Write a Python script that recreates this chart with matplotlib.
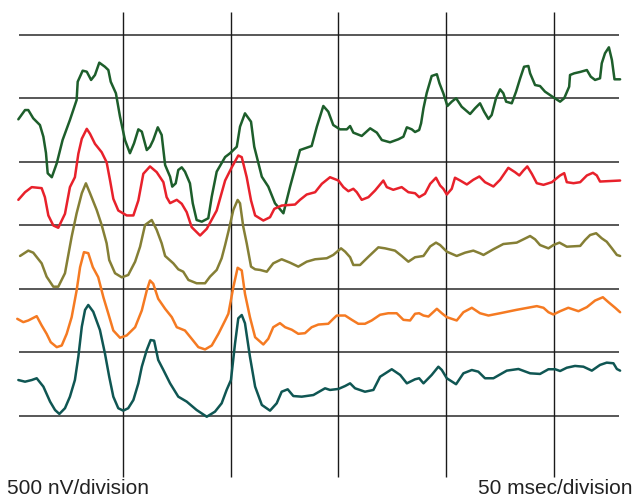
import matplotlib
matplotlib.use("Agg")
import matplotlib.pyplot as plt

# Averaged evoked-potential traces: time (ms) and amplitude (nV) relative to each
# trace's own reference line on the division grid.

green_t = [1.7, 4.8, 6.3, 8.6, 11.7, 13.3, 14.5, 15.3, 17.2, 19.5, 22.2, 25.6, 28.7, 29.2,
           31.5, 33.4, 35.4, 37.2, 39.2, 41.8, 43.4, 44.5, 46.9, 48.8, 51.1, 53.4, 55.3, 57.3,
           58.9, 61.2, 62.7, 64.2, 66.3, 68.1, 69.7, 72.0, 73.0, 74.6, 75.8, 77.4, 78.9, 81.2,
           82.5, 84.3, 86.7, 89.7, 91.3, 93.6, 97.5, 99.8, 102.9, 104.4, 106.7, 109.5, 111.0,
           114.5, 117.5, 120.6, 124.5, 127.6, 132.2, 137.6, 140.0, 143.0, 145.3, 147.6, 150.7,
           153.9, 155.4, 156.9, 160.8, 164.7, 167.8, 170.1, 173.9, 177.8, 180.1, 181.7, 184.0,
           185.5, 187.4, 188.3, 189.4, 190.9, 193.2, 195.6, 196.8, 198.6, 200.5, 202.5, 204.5,
           207.1, 211.0, 213.3, 215.6, 217.5, 219.5, 221.0, 223.0, 224.9, 226.4, 227.7, 230.3,
           232.3, 234.2, 236.0, 238.0, 238.8, 241.1, 243.4, 245.7, 249.6, 252.7, 254.6, 256.9,
           257.3, 259.2, 262.0, 265.1, 266.9, 268.9, 271.2, 272.0, 273.5, 275.3, 276.7, 277.9,
           280.5]
green_nv = [336, 409, 409, 344, 291, 199, 71, -89, -120, -10, 173, 331, 488, 632,
            719, 711, 646, 685, 782, 750, 724, 632, 541, 357, 173, 69, 147, 257,
            239, 94, 120, 173, 273, 213, -24, -116, -194, -168, -63, -42, -76, -168,
            -325, -457, -470, -443, -273, -76, 39, 69, 120, 278, 383, 317, 120,
            -116, -194, -325, -404, -194, 94, 126, 278, 441, 396, 291, 257,
            257, 283, 231, 205, 265, 231, 173, 155, 179, 199, 273, 257,
            236, 252, 305, 423, 543, 677, 691, 620, 541, 441, 475, 502,
            435, 378, 423, 462, 396, 339, 370, 502, 572, 541, 475, 462,
            554, 659, 750, 756, 698, 606, 598, 554, 509, 475, 502, 593,
            685, 698, 709, 724, 672, 646, 659, 777, 856, 903, 803, 651,
            651]

red_t = [1.7, 4.8, 7.9, 12.5, 14.0, 15.6, 17.9, 20.2, 23.3, 25.6, 27.9, 29.5, 31.1, 33.4,
         34.9, 37.2, 40.3, 42.6, 44.2, 45.7, 48.0, 51.9, 55.0, 57.3, 59.6, 62.7, 65.8, 68.9,
         70.4, 72.0, 75.1, 77.4, 79.7, 82.0, 85.9, 89.0, 93.6, 97.5, 100.6, 103.6, 105.2,
         107.5, 109.5, 111.4, 115.2, 118.3, 120.3, 123.7, 129.9, 132.2, 135.3, 139.2, 142.3,
         146.1, 150.0, 152.3, 154.6, 156.9, 158.5, 160.8, 163.9, 167.0, 170.8, 172.4, 175.4,
         179.3, 182.4, 185.5, 187.4, 190.1, 192.5, 195.2, 197.1, 198.6, 200.2, 202.5, 204.0,
         206.4, 209.5, 212.5, 215.3, 217.9, 221.8, 224.9, 228.7, 231.8, 233.8, 235.7, 237.5,
         239.6, 241.9, 245.0, 248.9, 252.7, 254.6, 255.8, 258.9, 262.0, 265.1, 267.9, 269.7,
         271.2, 280.5]
red_nv = [202, 262, 302, 294, 223, 79, 0, -18, 92, 302, 380, 565, 683, 761,
          722, 643, 577, 498, 354, 210, 118, 79, 79, 197, 407, 465, 420, 341,
          223, 176, 202, 171, 105, -13, -79, -26, 118, 354, 459, 551, 538,
          380, 197, 79, 39, 65, 131, 157, 165, 202, 244, 262, 328,
          380, 354, 302, 270, 289, 262, 202, 223, 276, 354, 302, 281,
          302, 262, 254, 223, 250, 328, 376, 315, 289, 244, 289, 376,
          354, 323, 360, 386, 341, 307, 360, 454, 420, 394, 433, 465,
          407, 333, 320, 341, 394, 412, 341, 333, 341, 394, 415, 394,
          346, 354]

olive_t = [2.5, 6.3, 8.6, 12.5, 14.8, 17.9, 20.2, 23.3, 26.4, 28.7, 31.1, 33.0, 34.9, 38.0,
           40.3, 42.6, 43.8, 46.5, 49.6, 52.6, 55.8, 58.1, 60.4, 63.5, 65.8, 68.1, 69.7, 73.5,
           75.8, 78.1, 80.5, 84.3, 88.2, 90.5, 93.6, 95.9, 97.5, 99.0, 101.3, 103.3, 104.4,
           105.9, 107.5, 109.5, 111.4, 113.7, 116.8, 119.8, 123.7, 127.6, 131.4, 135.3, 139.2,
           144.6, 147.6, 151.2, 153.1, 155.4, 156.9, 160.0, 163.9, 168.5, 171.6, 176.2, 179.3,
           182.4, 185.5, 189.4, 192.5, 195.2, 197.1, 200.2, 204.8, 208.7, 212.5, 215.6, 217.2,
           221.8, 226.4, 232.6, 235.7, 238.8, 241.1, 243.4, 247.3, 249.6, 252.4, 255.8, 262.0,
           264.3, 266.6, 269.4, 272.0, 274.3, 276.7, 279.0, 280.5]
olive_nv = [260, 302, 286, 202, 97, 18, 18, 124, 412, 596, 754, 832, 754, 622,
            504, 360, 228, 124, 92, 110, 215, 333, 504, 543, 465, 360, 260, 202,
            155, 136, 71, 45, 45, 97, 150, 242, 346, 451, 622, 701, 675,
            491, 360, 176, 155, 150, 136, 202, 234, 207, 176, 215, 234,
            242, 268, 320, 294, 250, 189, 189, 254, 328, 320, 302, 260,
            215, 250, 260, 335, 365, 346, 294, 260, 286, 302, 281, 268,
            313, 354, 365, 391, 417, 391, 346, 320, 346, 365, 333, 339,
            386, 425, 439, 399, 372, 320, 268, 260]

orange_t = [1.2, 4.0, 6.3, 10.2, 12.5, 14.8, 16.7, 19.5, 21.8, 24.1, 26.4, 28.7, 30.3, 32.1,
            34.1, 36.2, 38.7, 41.1, 43.4, 45.7, 48.8, 51.9, 55.8, 58.9, 61.2, 62.7, 64.2, 66.5,
            69.7, 72.8, 75.1, 78.9, 82.0, 85.1, 88.2, 91.3, 94.4, 97.5, 99.0, 101.3, 103.3,
            105.2, 106.7, 109.0, 111.4, 115.2, 117.5, 119.8, 122.9, 125.3, 128.4, 131.4, 134.5,
            137.6, 140.7, 145.3, 147.6, 149.2, 153.1, 156.2, 159.2, 162.3, 165.4, 169.3, 173.1,
            177.0, 180.1, 183.2, 185.5, 187.4, 189.4, 191.7, 195.6, 197.9, 200.2, 204.8, 207.9,
            211.8, 215.6, 219.5, 224.9, 232.6, 241.9, 245.0, 247.3, 249.6, 252.7, 256.5, 261.2,
            265.1, 268.9, 272.5, 275.1, 278.2, 280.5]
orange_nv = [265, 239, 252, 286, 213, 147, 81, 42, 55, 147, 278, 488, 672, 790,
             782, 672, 593, 435, 305, 173, 116, 134, 199, 331, 488, 567, 541, 423,
             344, 278, 199, 173, 108, 42, 24, 55, 147, 252, 305, 514, 667,
             646, 462, 278, 120, 63, 108, 199, 231, 199, 179, 147, 152,
             199, 220, 226, 265, 291, 291, 257, 226, 226, 252, 297, 309,
             309, 257, 252, 305, 309, 291, 283, 344, 309, 278, 252, 317,
             352, 309, 291, 309, 336, 365, 352, 317, 299, 325, 352, 325,
             357, 409, 435, 396, 352, 317]

teal_t = [1.7, 4.8, 7.9, 10.2, 13.3, 16.4, 18.7, 20.7, 23.3, 25.6, 27.9, 29.5, 31.1, 32.6,
          34.1, 36.4, 39.5, 41.8, 43.8, 45.7, 48.0, 50.3, 52.6, 55.0, 57.3, 58.9, 61.2, 63.0,
          64.6, 66.5, 68.9, 72.0, 75.8, 79.7, 84.3, 89.0, 92.8, 95.9, 98.2, 100.2, 102.1,
          103.6, 105.2, 106.7, 109.0, 111.4, 114.5, 118.3, 121.4, 123.7, 126.5, 129.1, 133.0,
          138.4, 143.8, 146.1, 150.0, 153.1, 155.4, 157.7, 162.3, 166.2, 169.3, 174.7, 178.6,
          181.7, 185.5, 187.4, 189.4, 193.2, 196.3, 197.9, 200.2, 204.5, 207.9, 211.8, 214.8,
          217.9, 221.8, 228.0, 233.4, 238.8, 243.4, 247.3, 250.4, 252.7, 255.8, 259.6, 263.5,
          267.4, 271.2, 274.3, 277.4, 279.0, 280.5]
teal_nv = [283, 270, 283, 297, 231, 113, 47, 16, 61, 152, 283, 467, 703, 835,
           874, 821, 677, 494, 309, 152, 61, 42, 61, 126, 257, 388, 520, 598,
           593, 441, 362, 257, 152, 113, 47, -6, 34, 100, 205, 283, 572,
           769, 795, 730, 467, 231, 87, 42, 100, 191, 210, 157, 152,
           165, 218, 205, 213, 236, 257, 218, 191, 205, 309, 368, 323,
           257, 289, 297, 257, 323, 388, 362, 297, 250, 336, 362, 349,
           297, 297, 357, 370, 336, 331, 368, 368, 354, 380, 394, 388,
           357, 402, 420, 415, 370, 357]

traces = [
    (green_t, green_nv, 4, "#1d5e2b"),
    (red_t, red_nv, 3, "#e8212b"),
    (olive_t, olive_nv, 2, "#857f35"),
    (orange_t, orange_nv, 1, "#f57a22"),
    (teal_t, teal_nv, 0, "#0f5653"),
]

NV_PER_DIV = 500
MS_PER_DIV = 50
grid_levels = [0, 1, 2, 3, 4, 5, 6]
grid_times = [50, 100, 150, 200, 250]

fig = plt.figure(figsize=(6.35, 4.97), dpi=100)
ax = fig.add_axes([0, 0, 1, 1])
ax.set_xlim(-6.8, 287.4)
ax.set_ylim(-1.276, 6.551)
ax.axis("off")

for lvl in grid_levels:
    ax.plot([2.0, 280.0], [lvl, lvl], color="#2a2a2a", lw=1.1, solid_capstyle="butt", zorder=1)
for t in grid_times:
    ax.plot([t, t], [-0.96, 6.36], color="#1a1a1a", lw=1.0, solid_capstyle="butt", zorder=1)

for t, nv, base, color in traces:
    ys = [base + v / NV_PER_DIV for v in nv]
    ax.plot(t, ys, color=color, lw=1.8, solid_joinstyle="round", solid_capstyle="round", zorder=3)

font = ["Liberation Sans", "DejaVu Sans"]
fig.text(7 / 635, 3 / 497, f"{NV_PER_DIV} nV/division", family=font, fontsize=15,
         color="#222222", ha="left", va="baseline")
fig.text(632 / 635, 3 / 497, f"{MS_PER_DIV} msec/division", family=font, fontsize=15,
         color="#222222", ha="right", va="baseline")

fig.savefig("out.png", dpi=100)
